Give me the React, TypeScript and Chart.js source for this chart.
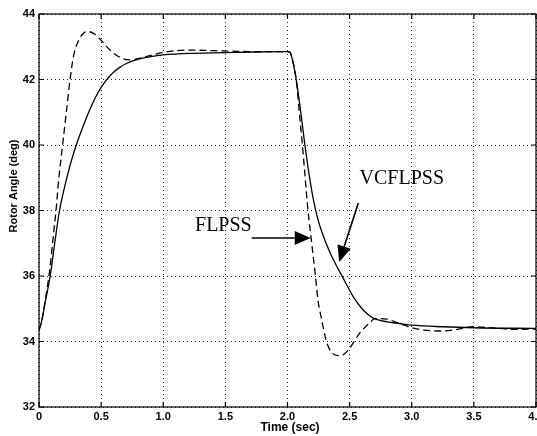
import React, { useEffect, useRef } from 'react';
import { Chart, registerables } from 'chart.js';

Chart.register(...registerables);

// VCFLPSS (solid line)
const timeVC = [0, 0.02, 0.05, 0.09, 0.13, 0.165, 0.2, 0.25, 0.3, 0.35, 0.4, 0.45, 0.5, 0.55, 0.6, 0.65, 0.7, 0.8, 0.9, 1.0, 1.25, 1.5, 1.75, 2.0, 2.02, 2.04, 2.07, 2.1, 2.14, 2.18, 2.21, 2.24, 2.285, 2.35, 2.446, 2.54, 2.6, 2.65, 2.7, 2.8, 2.9, 3.0, 3.25, 3.5, 4.0];
const angleVC = [34.35, 34.6, 35.2, 36.0, 37.1, 38.0, 38.62, 39.38, 40.0, 40.52, 41.0, 41.42, 41.76, 42.02, 42.22, 42.37, 42.48, 42.62, 42.7, 42.75, 42.8, 42.82, 42.84, 42.85, 42.83, 42.6, 42.0, 41.2, 40.0, 38.95, 38.3, 37.8, 37.25, 36.65, 35.95, 35.3, 35.0, 34.82, 34.7, 34.6, 34.55, 34.5, 34.45, 34.42, 34.4];

// FLPSS (dashed line)
const timeFL = [0, 0.02, 0.05, 0.09, 0.12, 0.137, 0.16, 0.19, 0.22, 0.25, 0.28, 0.32, 0.36, 0.40, 0.45, 0.5, 0.55, 0.6, 0.65, 0.72, 0.8, 0.9, 1.0, 1.1, 1.2, 1.4, 1.6, 1.8, 2.0, 2.02, 2.04, 2.07, 2.1, 2.12, 2.14, 2.165, 2.19, 2.225, 2.245, 2.27, 2.31, 2.35, 2.41, 2.45, 2.49, 2.58, 2.67, 2.7, 2.8, 2.9, 3.0, 3.1, 3.22, 3.35, 3.49, 3.6, 3.7, 3.84, 4.0];
const angleFL = [34.35, 34.6, 35.25, 36.3, 37.4, 38.0, 39.0, 40.0, 41.0, 42.0, 42.75, 43.2, 43.42, 43.46, 43.38, 43.2, 42.98, 42.8, 42.68, 42.6, 42.64, 42.74, 42.83, 42.88, 42.9, 42.88, 42.86, 42.85, 42.85, 42.83, 42.6, 42.0, 40.8, 40.0, 39.1, 38.0, 37.16, 36.0, 35.27, 34.76, 34.05, 33.69, 33.57, 33.6, 33.74, 34.25, 34.6, 34.7, 34.68, 34.55, 34.42, 34.35, 34.32, 34.36, 34.45, 34.43, 34.4, 34.37, 34.38];

const xMin = 0;
const xMax = 4;
const xStep = 0.5;
const yMin = 32;
const yMax = 44;
const yStep = 2;

const xTitle = 'Time (sec)';
const yTitle = 'Rotor Angle (deg)';

// annotation labels with arrows (in data coordinates)
const annLabels = ['FLPSS', 'VCFLPSS'];
const annTextX = [1.712, 2.58];
const annTextY = [37.37, 38.81];
const annAlign = ['right', 'left'];
const annFromX = [1.712, 2.57];
const annFromY = [37.16, 38.23];
const annToX = [2.187, 2.416];
const annToY = [37.16, 36.43];

const tickFont = { family: "'Liberation Sans', Arial, sans-serif", size: 11, weight: 'bold' as const };

const framePlugin = {
  id: 'matlabFrame',
  afterDraw(chart: any) {
    const { ctx, chartArea } = chart;
    const { left, top, right, bottom } = chartArea;
    const xs = chart.scales.x;
    const ys = chart.scales.y;
    ctx.save();
    ctx.strokeStyle = '#000';
    ctx.lineWidth = 1.2;
    ctx.setLineDash([]);
    ctx.strokeRect(left, top, right - left, bottom - top);
    // inward ticks
    const tl = 5;
    ctx.beginPath();
    for (let v = xMin; v <= xMax + 1e-9; v += xStep) {
      const px = xs.getPixelForValue(v);
      ctx.moveTo(px, bottom);
      ctx.lineTo(px, bottom - tl);
      ctx.moveTo(px, top);
      ctx.lineTo(px, top + tl);
    }
    for (let v = yMin; v <= yMax + 1e-9; v += yStep) {
      const py = ys.getPixelForValue(v);
      ctx.moveTo(left, py);
      ctx.lineTo(left + tl, py);
      ctx.moveTo(right, py);
      ctx.lineTo(right - tl, py);
    }
    ctx.stroke();

    // axis titles
    ctx.fillStyle = '#000';
    ctx.textAlign = 'center';
    ctx.textBaseline = 'middle';
    ctx.font = "bold 12px 'Liberation Sans', Arial, sans-serif";
    ctx.fillText(xTitle, 290, 428);
    ctx.save();
    ctx.translate(14, 186);
    ctx.rotate(-Math.PI / 2);
    ctx.font = "bold 11px 'Liberation Sans', Arial, sans-serif";
    ctx.fillText(yTitle, 0, 0);
    ctx.restore();

    // annotations
    ctx.font = "20px 'Liberation Serif', 'Times New Roman', serif";
    ctx.textBaseline = 'alphabetic';
    ctx.lineWidth = 1.6;
    for (let i = 0; i < annLabels.length; i++) {
      const tx = xs.getPixelForValue(annTextX[i]);
      const ty = ys.getPixelForValue(annTextY[i]);
      ctx.textAlign = annAlign[i] as CanvasTextAlign;
      ctx.fillText(annLabels[i], tx, ty);
      const fx = xs.getPixelForValue(annFromX[i]);
      const fy = ys.getPixelForValue(annFromY[i]);
      const ex = xs.getPixelForValue(annToX[i]);
      const ey = ys.getPixelForValue(annToY[i]);
      const ang = Math.atan2(ey - fy, ex - fx);
      const headLen = 16;
      const headHalf = 7;
      const bx = ex - headLen * Math.cos(ang);
      const by = ey - headLen * Math.sin(ang);
      ctx.beginPath();
      ctx.moveTo(fx, fy);
      ctx.lineTo(bx, by);
      ctx.stroke();
      ctx.beginPath();
      ctx.moveTo(ex, ey);
      ctx.lineTo(bx + headHalf * Math.sin(ang), by - headHalf * Math.cos(ang));
      ctx.lineTo(bx - headHalf * Math.sin(ang), by + headHalf * Math.cos(ang));
      ctx.closePath();
      ctx.fill();
    }
    ctx.restore();
  },
};

export default function App() {
  const canvasRef = useRef<HTMLCanvasElement | null>(null);

  useEffect(() => {
    if (!canvasRef.current) return;
    const solid = timeVC.map((t, i) => ({ x: t, y: angleVC[i] }));
    const dashed = timeFL.map((t, i) => ({ x: t, y: angleFL[i] }));
    const chart = new Chart(canvasRef.current, {
      type: 'line',
      data: {
        datasets: [
          {
            label: 'VCFLPSS',
            data: solid,
            borderColor: '#000',
            borderWidth: 1.3,
            pointRadius: 0,
            fill: false,
            cubicInterpolationMode: 'monotone',
          },
          {
            label: 'FLPSS',
            data: dashed,
            borderColor: '#000',
            borderWidth: 1.3,
            borderDash: [7, 4],
            pointRadius: 0,
            fill: false,
            cubicInterpolationMode: 'monotone',
          },
        ],
      },
      options: {
        animation: false,
        responsive: true,
        maintainAspectRatio: false,
        layout: { padding: { top: 14, right: 1, left: 0, bottom: 0 } },
        plugins: {
          legend: { display: false },
          tooltip: { enabled: false },
          title: { display: false },
        },
        scales: {
          x: {
            type: 'linear',
            min: xMin,
            max: xMax,
            ticks: {
              stepSize: xStep,
              font: tickFont,
              color: '#000',
              padding: 3,
              maxRotation: 0,
              autoSkip: false,
            },
            grid: {
              color: '#222',
              lineWidth: 1,
              drawTicks: false,
            },
            border: { display: false, dash: [1, 3] },
            afterFit: (scale: any) => {
              scale.height = 29;
              scale.paddingLeft = 0;
              scale.paddingRight = 0;
            },
          },
          y: {
            type: 'linear',
            min: yMin,
            max: yMax,
            ticks: {
              stepSize: yStep,
              font: tickFont,
              color: '#000',
              padding: 4,
            },
            grid: {
              color: '#222',
              lineWidth: 1,
              drawTicks: false,
            },
            border: { display: false, dash: [1, 3] },
            afterFit: (scale: any) => {
              scale.width = 39;
              scale.paddingTop = 0;
              scale.paddingBottom = 0;
            },
          },
        },
      },
      plugins: [framePlugin],
    });
    return () => chart.destroy();
  }, []);

  return (
    <div style={{ position: 'fixed', left: 0, top: 0, width: 537, height: 436, background: '#fff' }}>
      <canvas ref={canvasRef} />
    </div>
  );
}
